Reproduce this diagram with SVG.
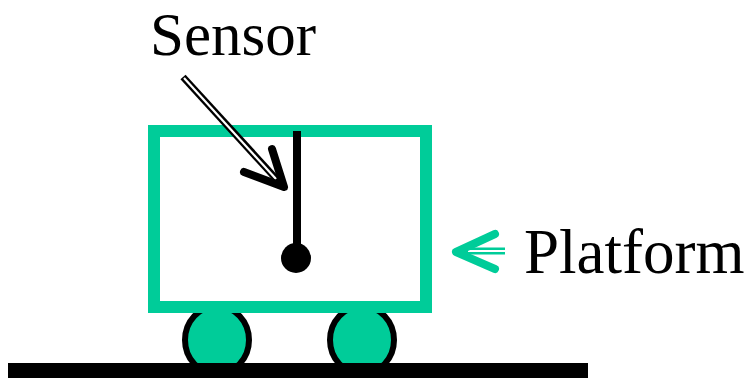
<svg xmlns="http://www.w3.org/2000/svg" width="753" height="378" viewBox="0 0 753 378">
  <style>
    .label { font-family: "Liberation Serif", "Times New Roman", serif; font-size: 61px; fill: #000; }
    .frame { fill: none; stroke: #00cc99; stroke-width: 12; }
    .wheel { fill: #00cc99; stroke: #000; stroke-width: 6; }
    .head { fill: none; stroke-linecap: round; stroke-linejoin: round; stroke-width: 8; }
  </style>
  <rect width="753" height="378" fill="#fff"/>

  <!-- cart wheels -->
  <g id="wheels">
    <ellipse class="wheel" cx="217" cy="340" rx="32" ry="34"/>
    <ellipse class="wheel" cx="362" cy="340" rx="32" ry="34"/>
  </g>

  <!-- ground -->
  <g id="ground">
    <rect x="8" y="363" width="580" height="20" fill="#000"/>
  </g>

  <!-- platform body -->
  <g id="platform">
    <rect class="frame" x="154" y="131" width="272" height="176"/>
  </g>

  <!-- pendulum sensor -->
  <g id="sensor">
    <line x1="297" y1="131" x2="297" y2="258" stroke="#000" stroke-width="8"/>
    <circle cx="296" cy="258" r="15" fill="#000"/>
  </g>

  <!-- labels -->
  <g id="sensor-label">
    <text class="label" x="150" y="55">Sensor</text>
  </g>
  <g id="platform-label">
    <text class="label" x="524" y="273" style="font-size:63px">Platform</text>
  </g>

  <!-- connectors: double-line arrows -->
  <g id="connectors">
    <g id="sensor-arrow">
      <line x1="183" y1="77" x2="280" y2="183" stroke="#000" stroke-width="7"/>
      <line x1="184" y1="78" x2="276" y2="179" stroke="#fff" stroke-width="2.2"/>
      <polyline class="head" stroke="#000" points="272,149 284,187 244,172"/>
    </g>
    <g id="platform-arrow">
      <line x1="505" y1="251" x2="462" y2="251" stroke="#00cc99" stroke-width="7"/>
      <line x1="506" y1="251" x2="468" y2="251" stroke="#fff" stroke-width="2.2"/>
      <polyline class="head" stroke="#00cc99" points="495,234 456,252 495,269"/>
    </g>
  </g>
</svg>
